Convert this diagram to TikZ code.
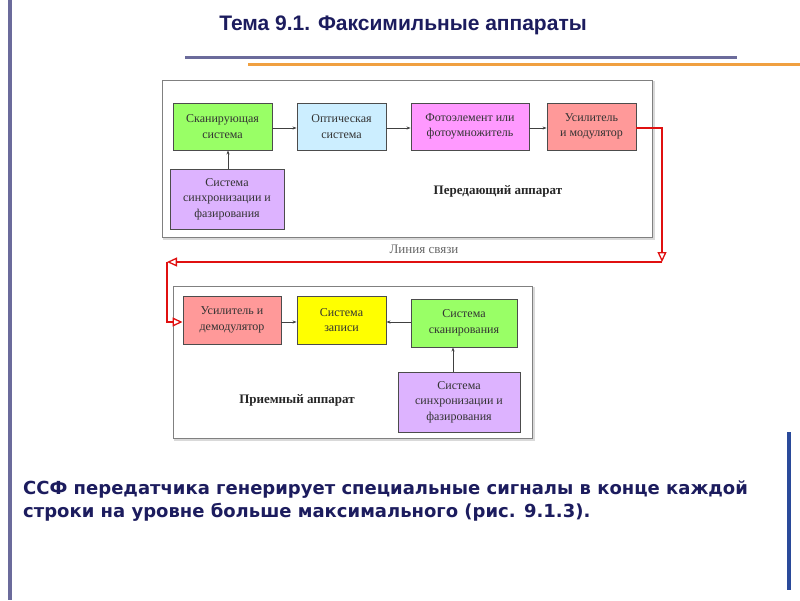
\documentclass[tikz,border=0pt]{standalone}
\usepackage{fontspec}
\setmainfont{Liberation Serif}
\newfontfamily\headfont{Liberation Sans}
\newfontfamily\bodyfont{DejaVu Sans}
\usetikzlibrary{arrows.meta}
\definecolor{navy}{HTML}{1C1C5E}
\definecolor{barpurple}{HTML}{6B6B9B}
\definecolor{barorange}{HTML}{F0A040}
\definecolor{barblue}{HTML}{2A4A9A}
\definecolor{cgreen}{HTML}{99FF66}
\definecolor{cblue}{HTML}{CCEEFF}
\definecolor{cmag}{HTML}{FF99FF}
\definecolor{csalmon}{HTML}{FF9999}
\definecolor{clav}{HTML}{DDB3FF}
\definecolor{cyellow}{HTML}{FFFF00}
\definecolor{boxtext}{HTML}{333333}
\definecolor{linkred}{HTML}{E01010}
\tikzset{
  blk/.style={draw=black!70, line width=0.9pt, rectangle, align=center, inner sep=2pt,
    font=\fontsize{12}{15.5}\selectfont, text=boxtext},
  frame/.style={draw=black!50, line width=1pt, fill=white},
  sig/.style={draw=black!75, line width=0.6pt, -{Stealth[length=4pt,width=3pt]}},
  redlink/.style={draw=linkred, line width=1.5pt, -{Triangle[open,length=10pt,width=9pt,line width=1.3pt]}},
  lbl/.style={font=\fontsize{13}{15}\selectfont\bfseries, text=black!85},
}
\begin{document}
\begin{tikzpicture}[x=1pt,y=-1pt]
\useasboundingbox (0,0) rectangle (800,600);
\fill[white] (0,0) rectangle (800,600);
% decorations
\draw[barpurple, line width=4pt] (9.5,0) -- (9.5,600);
\draw[barpurple, line width=3pt] (185,57) -- (737,57);
\draw[barorange, line width=3pt] (248,64) -- (800,64);
\draw[barblue, line width=4pt] (789,432) -- (789,590);
\node[font=\headfont\fontsize{21}{24}\selectfont\bfseries, text=navy] (title) at (403,25) {Тема 9.1. Факсимильные аппараты};
% upper frame
\draw[black!15, line width=2pt] (164,82) rectangle (654,239);
\draw[frame] (162,80) rectangle (652,237);
\node[blk, fill=cgreen, minimum width=99pt, minimum height=47pt] (scan) at (222.5,126.5) {Сканирующая\\система};
\node[blk, fill=cblue, minimum width=89pt, minimum height=47pt] (opt) at (341.5,126.5) {Оптическая\\система};
\node[blk, fill=cmag, minimum width=118pt, minimum height=47pt] (photo) at (470,126.5) {Фотоэлемент или\\фотоумножитель};
\node[blk, fill=csalmon, minimum width=89pt, minimum height=47pt] (amp) at (591.5,126.5) {Усилитель\\и модулятор};
\node[blk, fill=clav, minimum width=114pt, minimum height=60pt] (sync1) at (227,199) {Система\\синхронизации и\\фазирования};
\node[lbl] (tx) at (498,191) {Передающий аппарат};
\draw[sig] (scan.east |- 0,128) -- (opt.west |- 0,128);
\draw[sig] (opt.east |- 0,128) -- (photo.west |- 0,128);
\draw[sig] (photo.east |- 0,128) -- (amp.west |- 0,128);
\draw[sig] (sync1.north -| 228,0) -- (scan.south -| 228,0);
% link
\node[font=\fontsize{13}{15}\selectfont, text=black!60] (link) at (424,249) {Линия связи};
\coordinate (c1) at (662,262);
\coordinate (c2) at (167,262);
% lower frame
\draw[black!15, line width=2pt] (175,288) rectangle (534,440);
\draw[frame] (173,286) rectangle (532,438);
\node[blk, fill=csalmon, minimum width=98pt, minimum height=48pt] (ud) at (232,320) {Усилитель и\\демодулятор};
\node[blk, fill=cyellow, minimum width=89pt, minimum height=48pt] (rec) at (341.5,320) {Система\\записи};
\node[blk, fill=cgreen, minimum width=106pt, minimum height=48pt] (scan2) at (464,323) {Система\\сканирования};
\node[blk, fill=clav, minimum width=122pt, minimum height=60pt] (sync2) at (459,402) {Система\\синхронизации и\\фазирования};
\node[lbl] (rx) at (297,400) {Приемный аппарат};
\draw[sig] (ud.east |- 0,322) -- (rec.west |- 0,322);
\draw[sig] (scan2.west |- 0,322) -- (rec.east |- 0,322);
\draw[sig] (sync2.north -| 453,0) -- (scan2.south -| 453,0);
% red link line
\draw[redlink] (amp.east |- 0,128) -| (c1);
\draw[redlink] (c1) -- (c2);
\draw[redlink] (c2) |- (ud.west |- 0,322);
% bottom text
\node[font=\bodyfont\fontsize{18}{23}\selectfont\bfseries, text=navy, anchor=north west, align=left, inner sep=0pt] (body) at (23,481) {ССФ передатчика генерирует специальные сигналы в конце каждой\\строки на уровне больше максимального (рис. 9.1.3).};
\end{tikzpicture}
\end{document}
